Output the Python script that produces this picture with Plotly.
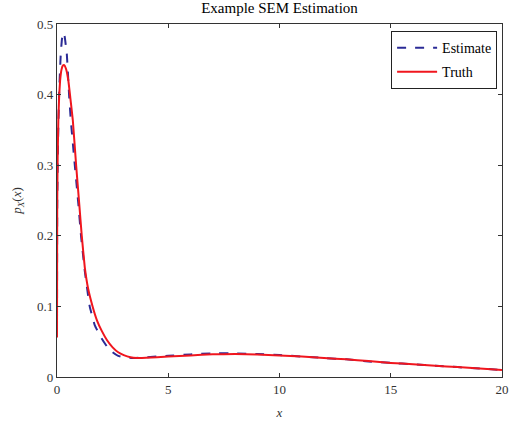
import plotly.graph_objects as go

# Estimate curve (dashed)
est_x = [0, 0.01, 0.05, 0.09, 0.13, 0.17, 0.22, 0.28, 0.34, 0.44, 0.55, 0.62, 0.8, 0.96, 1.08, 1.25, 1.47, 1.7, 2.0, 2.25, 2.5, 2.75, 3.0, 3.5, 4, 5, 6, 7, 8, 9, 10, 11, 12, 13, 14, 15, 16, 17, 18, 19, 20]
est_y = [0.06, 0.245, 0.34, 0.396, 0.43, 0.458, 0.478, 0.488, 0.483, 0.458, 0.396, 0.364, 0.30, 0.245, 0.2, 0.15, 0.1, 0.073, 0.055, 0.043, 0.035, 0.030, 0.028, 0.027, 0.028, 0.030, 0.032, 0.0335, 0.0335, 0.0325, 0.031, 0.029, 0.027, 0.025, 0.022, 0.020, 0.018, 0.016, 0.014, 0.012, 0.010]

# Truth curve (solid)
tru_x = [0, 0.005, 0.01, 0.03, 0.06, 0.1, 0.14, 0.2, 0.26, 0.32, 0.4, 0.51, 0.6, 0.71, 0.86, 1.0, 1.11, 1.25, 1.4, 1.6, 1.8, 2.0, 2.25, 2.5, 2.75, 3.0, 3.3, 3.6, 4, 5, 6, 7, 8, 9, 10, 11, 12, 13, 14, 15, 16, 17, 18, 19, 20]
tru_y = [0.056, 0.17, 0.245, 0.31, 0.364, 0.40, 0.42, 0.435, 0.441, 0.442, 0.437, 0.42, 0.395, 0.364, 0.30, 0.245, 0.201, 0.155, 0.125, 0.10, 0.08, 0.066, 0.052, 0.042, 0.035, 0.031, 0.028, 0.027, 0.0272, 0.029, 0.0305, 0.0322, 0.0325, 0.032, 0.0305, 0.029, 0.027, 0.025, 0.0225, 0.020, 0.018, 0.016, 0.014, 0.012, 0.010]

x_ticks = [0, 5, 10, 15, 20]
y_ticks = [0, 0.1, 0.2, 0.3, 0.4, 0.5]
y_tick_labels = ["0", "0.1", "0.2", "0.3", "0.4", "0.5"]

serif = "Liberation Serif"

fig = go.Figure()
fig.add_trace(go.Scatter(x=est_x, y=est_y, mode="lines", name="Estimate", legendgroup="a",
                         line=dict(color="#2b2b96", width=2, dash="dash", shape="spline", smoothing=0.3)))
fig.add_trace(go.Scatter(x=tru_x, y=tru_y, mode="lines", name="Truth", legendgroup="b",
                         line=dict(color="#f0161e", width=2, shape="spline", smoothing=0.3)))

axis_common = dict(showgrid=False, zeroline=False, showline=True, linecolor="#333333", linewidth=1.3,
                   mirror="allticks", ticks="inside", ticklen=4, tickcolor="#333333",
                   tickfont=dict(family=serif, size=13, color="#333333"), automargin=False)

fig.update_layout(
    width=511, height=421,
    margin=dict(l=57, r=9, t=24, b=44),
    paper_bgcolor="white", plot_bgcolor="white",
    title=dict(text="Example SEM Estimation", xref="paper", x=0.5, xanchor="center",
               yref="container", y=1.0, yanchor="top", pad=dict(t=2),
               font=dict(family=serif, size=15, color="black")),
    xaxis=dict(range=[0, 20], tickvals=x_ticks, ticktext=[str(v) for v in x_ticks],
               title=dict(text="<i>x</i>", font=dict(family=serif, size=13, color="#333333"), standoff=12),
               **axis_common),
    yaxis=dict(range=[0, 0.5], tickvals=y_ticks, ticktext=y_tick_labels,
               title=dict(text="<i>p</i><sub><i>X</i></sub>(<i>x</i>)", font=dict(family=serif, size=13, color="#333333"), standoff=12),
               **axis_common),
    legend=dict(x=0.989, y=0.98, xanchor="right", yanchor="top", bordercolor="#222222", borderwidth=1,
                bgcolor="white", font=dict(family=serif, size=14, color="black"),
                traceorder="grouped", tracegroupgap=3, itemwidth=40),
    showlegend=True,
)

fig.write_html("out.html", config={"displayModeBar": False},
               post_script="document.body.style.margin='0';document.body.style.overflow='hidden';")
